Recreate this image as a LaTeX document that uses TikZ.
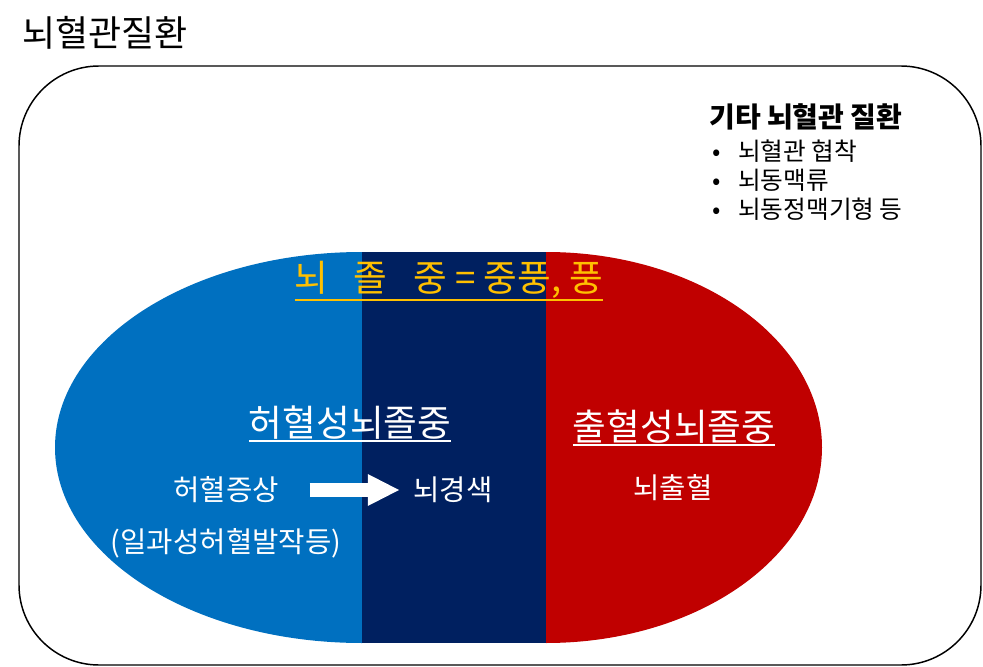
\documentclass[tikz,border=0pt]{standalone}
\usepackage{fontspec}
\setmainfont{Noto Sans CJK KR}
\usepackage{tikz}
\usetikzlibrary{arrows.meta,positioning}
\definecolor{SBlue}{HTML}{0070C0}
\definecolor{SNavy}{HTML}{002060}
\definecolor{SRed}{HTML}{C00000}
\definecolor{SGold}{HTML}{FFC000}
\newcommand{\thkul}[1]{\vtop{\hbox{#1}\kern0.5pt\hrule height 1.5pt}}

\begin{document}
\begin{tikzpicture}[
  x=0.75pt,y=-0.75pt,
  t/.style={inner sep=0pt,text=white,font=\fontsize{21.5}{25}\selectfont},
  big/.style={inner sep=0pt,text=white,font=\fontsize{27.5}{32}\selectfont},
  li/.style={inner sep=0pt,anchor=west,font=\fontsize{18.5}{22}\selectfont},
  a/.style={-{Triangle[length=24pt,width=22pt]},line width=11pt,white}
]
  \useasboundingbox (0,0) rectangle (983,667);
  \node[inner sep=0pt,font=\fontsize{27}{32}\selectfont] (title) at (105,33) {뇌혈관질환};
  \draw[line width=1.1pt,rounded corners=60pt] (19,66) rectangle (981,665);
  % stroke halves and the middle band
  \fill[SBlue] (362,252) arc[start angle=-90,end angle=-270,x radius=307,y radius=195.5] -- cycle;
  \fill[SRed] (546,252) arc[start angle=-90,end angle=90,x radius=276,y radius=195.5] -- cycle;
  \fill[SNavy] (362,252) rectangle (546,643);
  \node[big,text=SGold] (stroke) at (449,281)
    {\thkul{뇌\hspace{0.7em}졸\hspace{0.7em}중 = 중풍, 풍}};
  \node[big] (isch) at (350,424) {\thkul{허혈성뇌졸중}};
  \node[big] (hem) at (674,428) {\thkul{출혈성뇌졸중}};
  \node[t] (sym) at (226,490) {허혈증상};
  \node[t] (inf) at (453,490) {뇌경색};
  \node[t] (tia) at (226,543) {(일과성허혈발작등)};
  \node[t] (bleed) at (673,488) {뇌출혈};
  \draw[a,shorten <=23pt,shorten >=10pt] (sym) -- (inf);
  % other diseases
  \node[li,font=\fontsize{21}{24}\bfseries\selectfont] (other) at (709,117) {기타 뇌혈관 질환};
  \node[li] (steno) at (712,151) {\makebox[19.5pt][l]{•}뇌혈관 협착};
  \node[li,below=4.5pt of steno.south west,anchor=north west] (aneu) {\makebox[19.5pt][l]{•}뇌동맥류};
  \node[li,below=4.5pt of aneu.south west,anchor=north west] (avm) {\makebox[19.5pt][l]{•}뇌동정맥기형 등};
\end{tikzpicture}
\end{document}
